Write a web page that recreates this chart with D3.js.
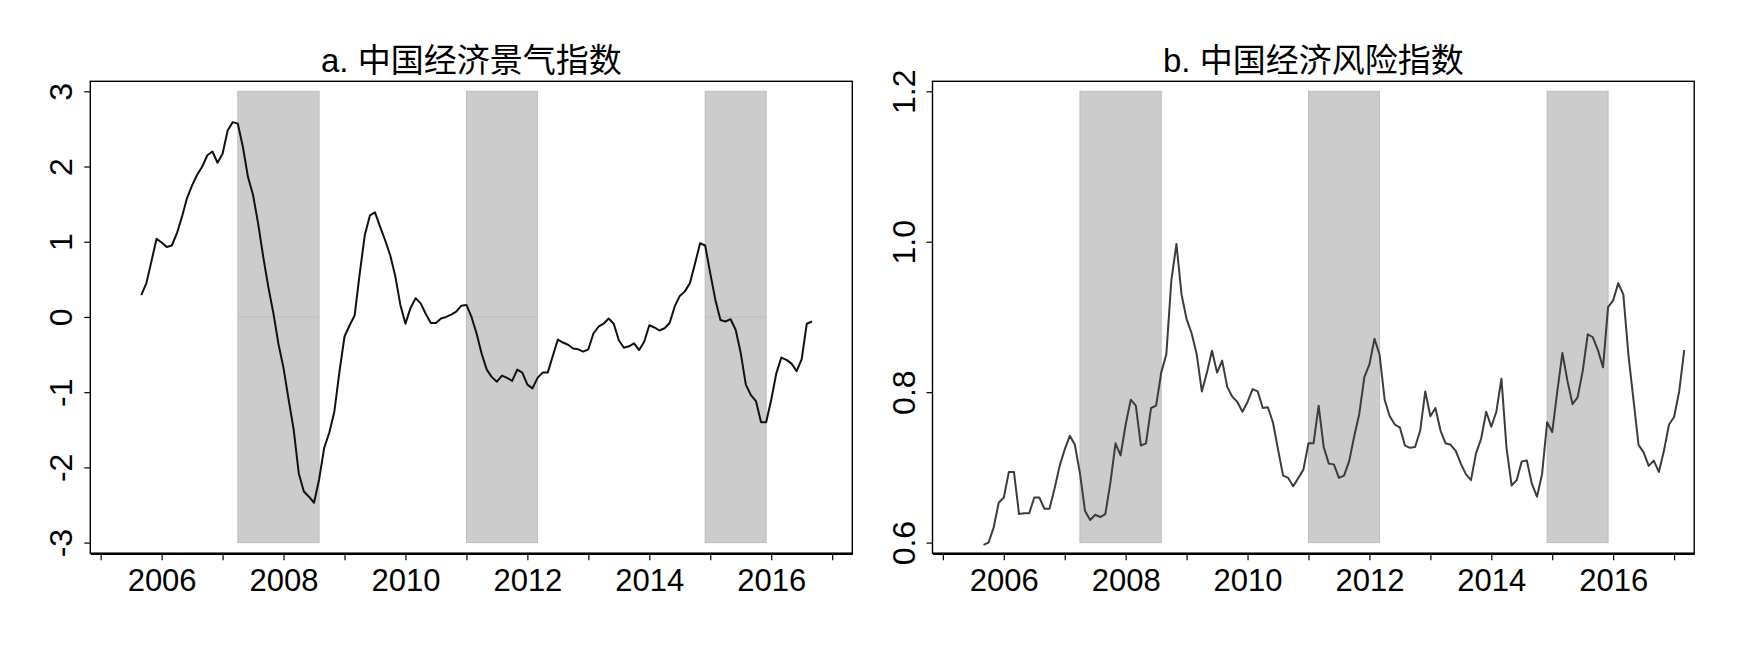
<!DOCTYPE html>
<html>
<head>
<meta charset="utf-8">
<script src="https://cdnjs.cloudflare.com/ajax/libs/d3/7.8.5/d3.min.js"></script>
<style>
  html, body { margin: 0; padding: 0; background: #fff; }
  svg { display: block; }
</style>
</head>
<body>
<svg id="chart" width="1739" height="645"></svg>
<script>
// ---------------- data ----------------
const startYear = 2005, startMonth = 9; // first observation: Sep 2005 (monthly)

const titleA = "a. 中国经济景气指数";
const titleB = "b. 中国经济风险指数";

// a. China economic prosperity index (monthly, Sep 2005 – Sep 2016)
const prosperity = [
  0.29, 0.45, 0.74, 1.04, 0.99, 0.93, 0.95, 1.11, 1.33, 1.58,
  1.75, 1.89, 2.00, 2.15, 2.20, 2.05, 2.17, 2.48, 2.59, 2.57,
  2.26, 1.86, 1.62, 1.24, 0.80, 0.40, 0.05, -0.36, -0.68, -1.10,
  -1.50, -2.08, -2.32, -2.39, -2.47, -2.16, -1.74, -1.54, -1.26, -0.73,
  -0.26, -0.11, 0.02, 0.58, 1.09, 1.35, 1.39, 1.20, 1.02, 0.82,
  0.54, 0.16, -0.09, 0.12, 0.25, 0.18, 0.04, -0.08, -0.08, -0.02,
  0.00, 0.03, 0.07, 0.15, 0.16, 0.00, -0.22, -0.49, -0.70, -0.80,
  -0.86, -0.78, -0.81, -0.85, -0.70, -0.74, -0.90, -0.95, -0.81, -0.74,
  -0.74, -0.52, -0.30, -0.34, -0.37, -0.42, -0.43, -0.46, -0.43, -0.22,
  -0.13, -0.09, -0.02, -0.09, -0.31, -0.41, -0.39, -0.35, -0.44, -0.33,
  -0.11, -0.14, -0.18, -0.15, -0.08, 0.14, 0.28, 0.34, 0.45, 0.71,
  0.98, 0.95, 0.58, 0.23, -0.04, -0.06, -0.03, -0.17, -0.48, -0.90,
  -1.04, -1.12, -1.40, -1.40, -1.10, -0.75, -0.54, -0.57, -0.62, -0.72,
  -0.56, -0.09, -0.06
];

// b. China economic risk index (monthly, Sep 2005 – Mar 2017)
const risk = [
  0.597, 0.600, 0.620, 0.653, 0.660, 0.694, 0.694, 0.638, 0.639, 0.639,
  0.660, 0.660, 0.645, 0.645, 0.672, 0.702, 0.724, 0.742, 0.730, 0.692,
  0.642, 0.630, 0.637, 0.634, 0.638, 0.680, 0.732, 0.716, 0.757, 0.790,
  0.782, 0.729, 0.732, 0.779, 0.782, 0.826, 0.850, 0.949, 0.997, 0.930,
  0.897, 0.878, 0.850, 0.801, 0.826, 0.855, 0.826, 0.842, 0.807, 0.794,
  0.787, 0.774, 0.787, 0.804, 0.801, 0.779, 0.780, 0.760, 0.724, 0.689,
  0.686, 0.675, 0.686, 0.697, 0.732, 0.732, 0.782, 0.727, 0.705, 0.704,
  0.686, 0.689, 0.708, 0.741, 0.771, 0.820, 0.837, 0.871, 0.850, 0.790,
  0.768, 0.757, 0.753, 0.729, 0.726, 0.727, 0.749, 0.801, 0.768, 0.779,
  0.749, 0.732, 0.730, 0.722, 0.705, 0.691, 0.683, 0.719, 0.738, 0.774,
  0.754, 0.774, 0.818, 0.726, 0.676, 0.683, 0.708, 0.709, 0.678, 0.661,
  0.691, 0.760, 0.747, 0.801, 0.852, 0.815, 0.784, 0.793, 0.828, 0.877,
  0.873, 0.856, 0.833, 0.913, 0.922, 0.945, 0.930, 0.850, 0.790, 0.730,
  0.720, 0.702, 0.709, 0.694, 0.722, 0.757, 0.767, 0.801, 0.856
];

// shaded periods [start year, start month, end year, end month]
const shadeStarts = [[2007, 4], [2011, 1], [2014, 12]];
const shadeEnds   = [[2008, 8], [2012, 3], [2015, 12]];

const xTickYears  = [2005, 2006, 2007, 2008, 2009, 2010, 2011, 2012, 2013, 2014, 2015, 2016, 2017];
const xLabelYears = [2006, 2008, 2010, 2012, 2014, 2016];
const yTicksA = [-3, -2, -1, 0, 1, 2, 3];
const yTicksB = [0.6, 0.8, 1.0, 1.2];
const yLabelsB = ["0.6", "0.8", "1.0", "1.2"];

// ---------------- drawing ----------------
const svg = d3.select("#chart");
const latin = "'Liberation Sans', Arial, 'Noto Sans CJK SC', sans-serif";

function decYear(y, m) { return y + (m - 1) / 12; }

function panel(opts) {
  const { left, right, top, bottom, yDomain, yTicks, yFmt, values, title, lineColor, zeroLine } = opts;
  const g = svg.append("g");
  const x = d3.scaleLinear().domain([2004.83, 2017.33]).range([left, right]);
  const y = d3.scaleLinear().domain(yDomain).range([542.6, 91.3]);

  // shading
  shadeStarts.forEach((s, i) => {
    const e = shadeEnds[i];
    const x0 = x(decYear(s[0], s[1])), x1 = x(decYear(e[0], e[1]));
    g.append("rect")
      .attr("x", x0).attr("y", y(yDomain[1]))
      .attr("width", x1 - x0).attr("height", y(yDomain[0]) - y(yDomain[1]))
      .attr("fill", "#cccccc").attr("stroke", "#bdbdbd").attr("stroke-width", 1);
    if (zeroLine) {
      g.append("line")
        .attr("x1", x0).attr("x2", x1).attr("y1", y(0)).attr("y2", y(0))
        .attr("stroke", "#bdbdbd").attr("stroke-width", 1);
    }
  });

  // series
  const line = d3.line()
    .x((d, i) => x(decYear(startYear, startMonth + i)))
    .y(d => y(d));
  g.append("path").datum(values)
    .attr("d", line)
    .attr("fill", "none")
    .attr("stroke", lineColor)
    .attr("stroke-width", 2)
    .attr("stroke-linejoin", "round");

  // frame
  g.append("rect")
    .attr("x", left).attr("y", top)
    .attr("width", right - left).attr("height", bottom - top)
    .attr("fill", "none").attr("stroke", "#000").attr("stroke-width", 1.4);

  // x axis
  const xAxis = d3.axisBottom(x).tickValues(xTickYears).tickSize(7).tickSizeOuter(0)
    .tickFormat(d => xLabelYears.includes(d) ? String(d) : "");
  const xg = g.append("g").attr("transform", `translate(0,${bottom})`).call(xAxis);
  xg.select(".domain").attr("stroke", "#000").attr("stroke-width", 2.2);
  xg.selectAll(".tick line").attr("stroke", "#000").attr("stroke-width", 1.2);
  xg.selectAll(".tick text")
    .attr("y", 16).attr("dy", "0.71em")
    .attr("fill", "#000")
    .style("font-family", latin).style("font-size", "31px");

  // y axis
  const yAxis = d3.axisLeft(y).tickValues(yTicks).tickSize(6).tickSizeOuter(0).tickFormat(yFmt);
  const yg = g.append("g").attr("transform", `translate(${left},0)`).call(yAxis);
  yg.select(".domain").attr("stroke", "none");
  yg.selectAll(".tick line").attr("stroke", "#000").attr("stroke-width", 1.2);
  yg.selectAll(".tick text")
    .attr("x", null).attr("dy", null)
    .attr("transform", "translate(-18,0) rotate(-90)")
    .attr("text-anchor", "middle")
    .attr("fill", "#000")
    .style("font-family", latin).style("font-size", "32px");

  // title
  g.append("text")
    .attr("x", (left + right) / 2).attr("y", 72)
    .attr("text-anchor", "middle")
    .attr("fill", "#000")
    .style("font-family", "'Liberation Sans', Arial, 'Noto Sans CJK SC', sans-serif")
    .style("font-size", "33px")
    .text(title);
}

panel({
  left: 90.3, right: 852.3, top: 81.3, bottom: 553.3,
  yDomain: [-3, 3], yTicks: yTicksA, yFmt: d => String(d),
  values: prosperity, title: titleA, lineColor: "#111111", zeroLine: true
});

panel({
  left: 932.5, right: 1694.2, top: 81.3, bottom: 553.3,
  yDomain: [0.6, 1.2], yTicks: yTicksB, yFmt: (d, i) => yLabelsB[i],
  values: risk, title: titleB, lineColor: "#3c3c3c", zeroLine: false
});
</script>
</body>
</html>
